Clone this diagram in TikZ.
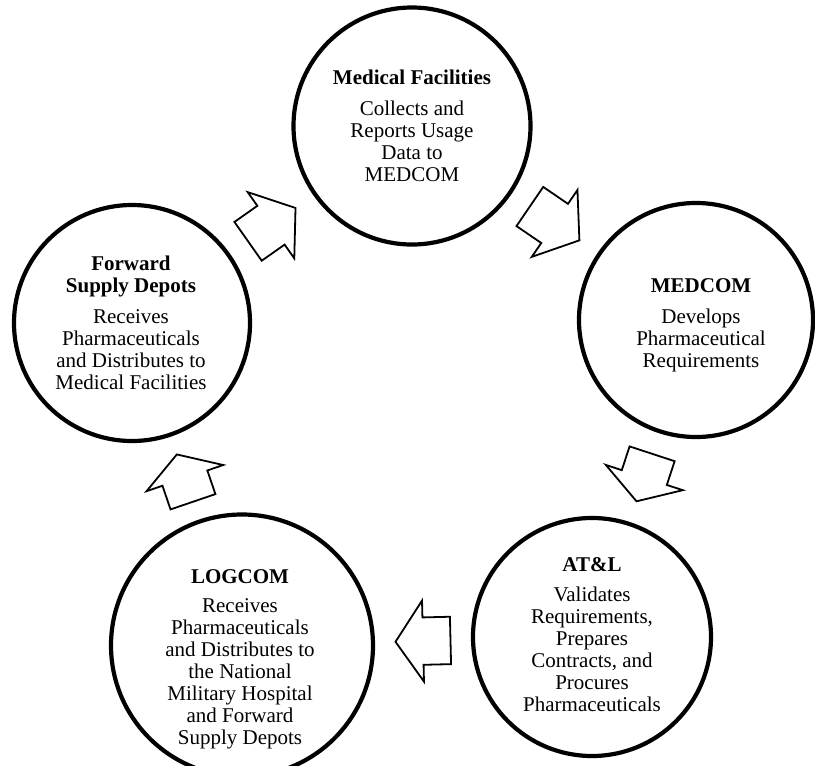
\documentclass[tikz,border=0pt]{standalone}
\usepackage{fontspec}
\setmainfont{Liberation Serif}
\usetikzlibrary{calc}
\begin{document}
\begin{tikzpicture}[x=1pt,y=1pt,
  circ/.style={circle, draw, line width=4.2pt, inner sep=0pt},
  txt/.style={align=center, inner sep=0pt, font=\fontsize{21}{22}\selectfont},
  arrowline/.style={draw, line width=1.8pt, fill=white, line join=miter},
  pics/blockarrow/.style n args={3}{code={
    \draw[arrowline] (#1,-23.7) -- (#2,-23.7) -- (#2,-40.5) -- (#3,0) -- (#2,40.5) -- (#2,23.7) -- (#1,23.7) -- cycle;}},
]
\useasboundingbox (0,0) rectangle (815,-766);
\clip (0,0) rectangle (815,-766);

% circles
\node[circ, minimum size=237pt] (MF)  at (412,-126)   {};
\node[circ, minimum size=234pt] (MED) at (696,-320)   {};
\node[circ, minimum size=238pt] (ATL) at (592,-637)   {};
\node[circ, minimum size=262pt] (LOG) at (242,-645.5) {};
\node[circ, minimum size=236pt] (FSD) at (132,-323)   {};

% texts (anchored at the baseline of the last line)
\node[txt, anchor=base] (MFt) at (412,-181.5) {\textbf{Medical Facilities}\\[9pt]Collects and\\Reports Usage\\Data to\\MEDCOM};
\node[txt, anchor=base] (MEDt) at (701,-367) {\textbf{MEDCOM}\\[9pt]Develops\\Pharmaceutical\\Requirements};
\node[txt, anchor=base] (ATLt) at (592,-711.7) {\textbf{AT\&L}\\[8pt]Validates\\Requirements,\\Prepares\\Contracts, and\\Procures\\Pharmaceuticals};
\node[txt, anchor=base] (LOGt) at (240,-744) {\textbf{LOGCOM}\\[7pt]Receives\\Pharmaceuticals\\and Distributes to\\the National\\Military Hospital\\and Forward\\Supply Depots};
\node[txt, anchor=base] (FSDt) at (131,-389) {\textbf{Forward}\\\textbf{Supply Depots}\\[9pt]Receives\\Pharmaceuticals\\and Distributes to\\Medical Facilities};

% block arrows, centred in the gap between two circles
\path (FSD) -- coordinate[midway] (m1) (MF);
\path (MF)  -- coordinate[midway] (m2) (MED);
\path (MED) -- coordinate[midway] (m3) (ATL);
\path (ATL) -- coordinate[midway] (m4) (LOG);
\path (LOG) -- coordinate[midway] (m5) (FSD);
\path let \p1=($(MF)-(FSD)$),  \n1={atan2(\y1,\x1)} in (m1) pic[rotate=\n1]{blockarrow={-29}{-1}{29}};
\path let \p1=($(MED)-(MF)$),  \n1={atan2(\y1,\x1)} in (m2) pic[rotate=\n1]{blockarrow={-30}{0}{30}};
\path let \p1=($(ATL)-(MED)$), \n1={atan2(\y1,\x1)} in (m3) pic[rotate=\n1]{blockarrow={-25}{0}{25}};
\path let \p1=($(LOG)-(ATL)$), \n1={atan2(\y1,\x1)} in (m4) pic[rotate=\n1]{blockarrow={-27.5}{0}{27.5}};
\path let \p1=($(FSD)-(LOG)$), \n1={atan2(\y1,\x1)} in (m5) pic[rotate=\n1]{blockarrow={-25}{0}{25}};
\end{tikzpicture}
\end{document}
